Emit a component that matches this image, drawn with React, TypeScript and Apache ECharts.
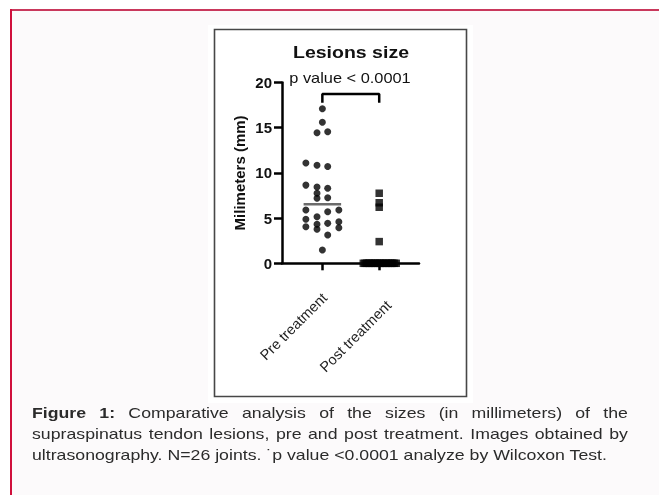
import React, { useEffect, useRef } from "react";
import * as echarts from "echarts";

// ---- data ----
const categories = ["Pre treatment", "Post treatment"];
const chartTitle = "Lesions size";
const yAxisName = "Milimeters (mm)";
const pValueLabel = "p value < 0.0001";

// horizontal beeswarm offsets (in category units) and values (mm)
const preOffsets = [
  0, 0, -0.094, 0.094,
  -0.29, -0.094, 0.094,
  -0.29, -0.094, 0.094,
  -0.094, -0.094, 0.094,
  -0.29, -0.094, 0.094, 0.29,
  -0.29, -0.094, 0.094, 0.29,
  -0.29, -0.094, 0.094, 0.29,
  0,
];
const preValues = [
  17.1, 15.6, 14.45, 14.55,
  11.1, 10.85, 10.7,
  8.65, 8.45, 8.3,
  7.75, 7.2, 7.25,
  5.9, 5.15, 5.7, 5.9,
  4.87, 4.31, 4.42, 4.6,
  4.05, 3.76, 3.13, 3.94,
  1.47,
];
const postOffsets = [
  0, 0, 0, 0,
  -0.28, -0.25, -0.22, -0.19, -0.17, -0.14, -0.11, -0.08, -0.06, -0.03, 0,
  0.02, 0.05, 0.08, 0.11, 0.13, 0.16, 0.19, 0.22, 0.24, 0.27, 0.3,
];
const postValues = [
  7.75, 6.7, 6.2, 2.4,
  0, 0, 0, 0, 0, 0, 0, 0, 0, 0, 0,
  0, 0, 0, 0, 0, 0, 0, 0, 0, 0, 0,
];
const preMedian = 6.53;
const postMedian = 0;
const bracketTop = 18.73;
const bracketBottom = 17.77;

const yMin = 0;
const yMax = 20;
const yInterval = 5;
const xMin = -0.71;
const xMax = 1.7;

const captionLines = [
  { bold: "Figure 1:", text: " Comparative analysis of the sizes (in millimeters) of the" },
  { bold: "", text: "supraspinatus tendon lesions, pre and post treatment. Images obtained by" },
  { bold: "", text: "ultrasonography. N=26 joints. \u02D9p value <0.0001 analyze by Wilcoxon Test." },
];

const FONT = '"Liberation Sans", Arial, Helvetica, sans-serif';

export default function App() {
  const ref = useRef<HTMLDivElement>(null);

  useEffect(() => {
    if (!ref.current) return;
    const chart = echarts.init(ref.current, undefined, { renderer: "svg" });
    const axisLineStyle = { color: "#000", width: 2.5 };

    const option: any = {
      animation: false,
      textStyle: { fontFamily: FONT },
      grid: { left: 282, top: 82.5, width: 137, height: 180.8 },
      xAxis: {
        type: "value",
        min: xMin,
        max: xMax,
        axisLine: { show: true, onZero: false, lineStyle: axisLineStyle },
        axisTick: { show: true, customValues: [0, 1], length: 7, lineStyle: axisLineStyle },
        axisLabel: {
          customValues: [0, 1],
          rotate: 45,
          margin: 30,
          fontSize: 14.5,
          color: "#222",
          fontFamily: FONT,
          formatter: (v: number) => {
            const i = Math.round(v);
            return i === 1 ? `{post|${categories[1]}}` : `{pre|${categories[0]}}`;
          },
          rich: {
            pre: { fontSize: 14.5, color: "#222", fontFamily: FONT, padding: [6, 0, 0, 0] },
            post: { fontSize: 14.5, color: "#222", fontFamily: FONT, padding: [27, 0, 0, 0] },
          },
        },
        splitLine: { show: false },
      },
      yAxis: {
        type: "value",
        min: yMin,
        max: yMax,
        interval: yInterval,
        name: yAxisName,
        nameLocation: "middle",
        nameGap: 35,
        nameTextStyle: { fontSize: 15, fontWeight: "bold", color: "#111", fontFamily: FONT },
        axisLine: { show: true, onZero: false, lineStyle: axisLineStyle },
        axisTick: { show: true, length: 8, lineStyle: axisLineStyle },
        axisLabel: { fontSize: 15, fontWeight: "bold", color: "#111", margin: 10, fontFamily: FONT },
        splitLine: { show: false },
      },
      graphic: [
        { type: "rect", z: -10, shape: { x: 10, y: 9, width: 649, height: 486 }, style: { fill: "#fcfafb" } },
        { type: "rect", z: -9, shape: { x: 208, y: 25, width: 265, height: 378 }, style: { fill: "#ffffff" } },
        { type: "rect", z: -8, shape: { x: 214.5, y: 29.5, width: 252, height: 367 }, style: { fill: "none", stroke: "#474747", lineWidth: 1.6 } },
        { type: "line", z: -7, shape: { x1: 10, y1: 10, x2: 659, y2: 10 }, style: { stroke: "#c9385c", lineWidth: 2 } },
        { type: "line", z: -7, shape: { x1: 11, y1: 9, x2: 11, y2: 495 }, style: { stroke: "#d0103c", lineWidth: 2 } },
        {
          type: "text",
          z: 10,
          x: 351,
          y: 53,
          scaleX: 1.22,
          style: {
            text: chartTitle,
            fontSize: 16,
            fontWeight: "bold",
            fontFamily: FONT,
            fill: "#111",
            align: "center",
            verticalAlign: "middle",
            textAlign: "center",
            textVerticalAlign: "middle",
          },
        },
        {
          type: "text",
          z: 10,
          x: 350,
          y: 77.5,
          scaleX: 1.17,
          style: {
            text: pValueLabel,
            fontSize: 14,
            fontFamily: FONT,
            fill: "#111",
            align: "center",
            verticalAlign: "middle",
            textAlign: "center",
            textVerticalAlign: "middle",
          },
        },
      ],
      series: [
        {
          type: "line",
          name: "pre median",
          data: [[-0.33, preMedian], [0.33, preMedian]],
          symbol: "none",
          lineStyle: { color: "#6b6b6b", width: 2.5 },
          z: 1,
        },
        {
          type: "line",
          name: "post median",
          data: [[0.67, postMedian], [1.33, postMedian]],
          symbol: "none",
          lineStyle: { color: "#6b6b6b", width: 2.5 },
          z: 1,
        },
        {
          type: "scatter",
          name: categories[0],
          data: preValues.map((v, i) => [0 + preOffsets[i], v]),
          symbol: "circle",
          symbolSize: 7,
          itemStyle: { color: "#000" },
          clip: false,
          z: 3,
        },
        {
          type: "scatter",
          name: categories[1],
          data: postValues.map((v, i) => [1 + postOffsets[i], v]),
          symbol: "rect",
          symbolSize: 7.5,
          itemStyle: { color: "#000" },
          clip: false,
          z: 3,
        },
        {
          type: "line",
          name: "bracket",
          data: [[0, bracketBottom], [0, bracketTop], [1, bracketTop], [1, bracketBottom]],
          symbol: "none",
          lineStyle: { color: "#000", width: 2.5 },
          clip: false,
          z: 3,
        },
      ],
    };
    chart.setOption(option);
    return () => chart.dispose();
  }, []);

  return (
    <div style={{ position: "fixed", left: 0, top: 0, width: 659, height: 495, overflow: "hidden" }}>
      <div ref={ref} style={{ position: "absolute", left: 0, top: 0, width: 659, height: 495 }} />
      <div
        style={{
          position: "absolute",
          left: 32,
          top: 401.5,
          width: 505,
          transform: "scaleX(1.18)",
          transformOrigin: "left top",
          fontFamily: FONT,
          fontSize: 15,
          lineHeight: "21px",
          color: "#2b2b2b",
        }}
      >
        {captionLines.map((l, i) => (
          <div
            key={i}
            style={{
              textAlign: i < 2 ? "justify" : "left",
              textAlignLast: i < 2 ? "justify" : "left",
              whiteSpace: "nowrap",
            }}
          >
            {l.bold ? <b>{l.bold}</b> : null}
            {l.text}
          </div>
        ))}
      </div>
    </div>
  );
}
